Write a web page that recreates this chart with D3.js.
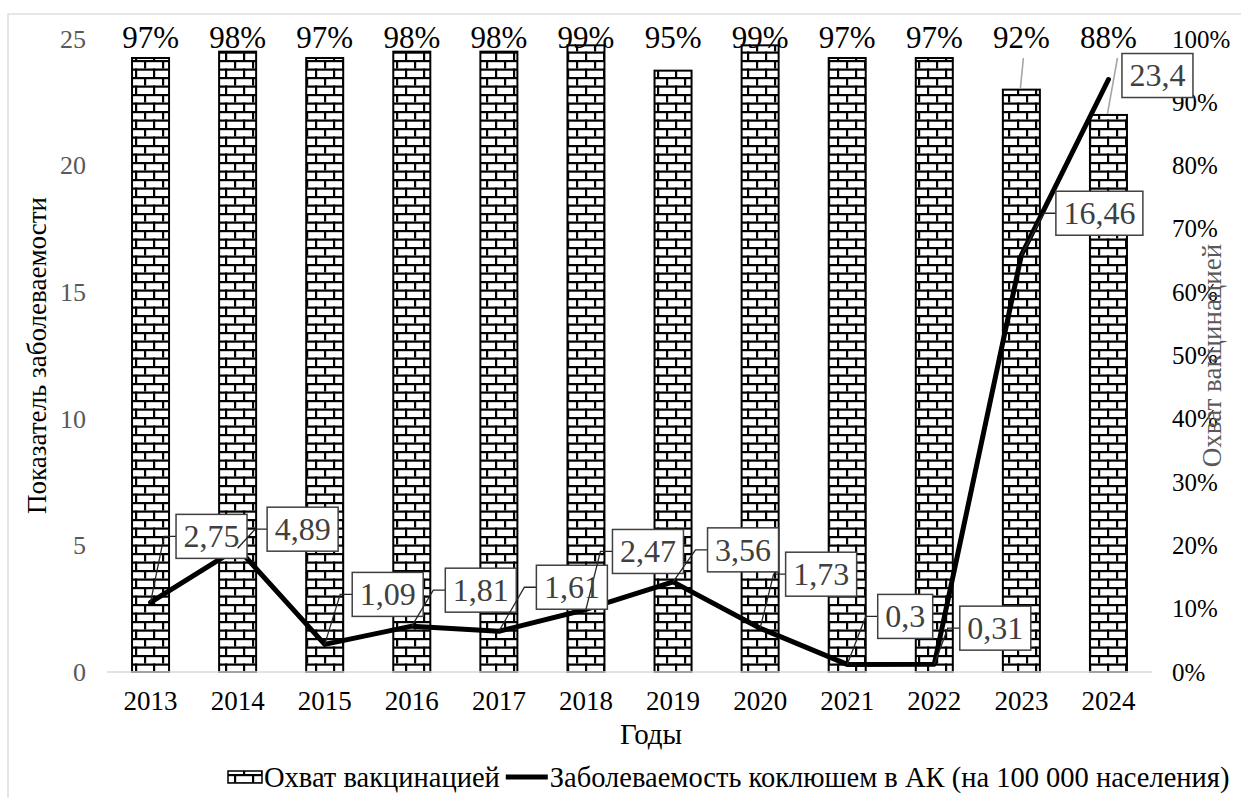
<!DOCTYPE html>
<html><head><meta charset="utf-8">
<script src="https://cdn.jsdelivr.net/npm/d3@7"></script>
<style>
html,body{margin:0;padding:0;background:#fff;}
svg{display:block;font-family:"Liberation Serif","Times New Roman",serif;}
svg text{font-family:"Liberation Serif","Times New Roman",serif;}
</style></head>
<body>
<svg id="chart" width="1241" height="798"></svg>
<script>
// ---- data ----
const years = ["2013","2014","2015","2016","2017","2018","2019","2020","2021","2022","2023","2024"];
const coverage = [0.97,0.98,0.97,0.98,0.98,0.99,0.95,0.99,0.97,0.97,0.92,0.88];
const incidence = [2.75,4.89,1.09,1.81,1.61,2.47,3.56,1.73,0.30,0.31,16.46,23.4];
const leftTicks = [0,5,10,15,20,25];
const rightTicks = [0,0.1,0.2,0.3,0.4,0.5,0.6,0.7,0.8,0.9,1.0];
const seriesNames = ["Охват вакцинацией","Заболеваемость коклюшем в АК (на 100 000 населения)"];
const axisTitles = {x:"Годы", yLeft:"Показатель заболеваемости", yRight:"Охват вакцинацией"};

// ---- layout (label placement offsets in px, as placed manually in the source chart) ----
const labelOffsets = [[61,-66],[65,-19],[63,-50],[69,-36],[73,-44],[62,-58],[70,-32],[61,-54],[58,-48],[61,-36],[78,-42],[49,-4]];

const svg = d3.select("#chart");
const W = 1241, H = 798;
const plot = {left:107, right:1152, top:39, bottom:672};

const ruLocale = d3.formatLocale({decimal:",", thousands:" ", grouping:[3], currency:["",""]});
const fmtNum = ruLocale.format("");
const fmtPct = d3.format(".0%");

const x = d3.scaleBand().domain(years).range([plot.left, plot.right]).paddingInner(0.575).paddingOuter(0.2875);
const yL = d3.scaleLinear().domain([0,25]).range([plot.bottom, plot.top]);
const yR = d3.scaleLinear().domain([0,1]).range([plot.bottom, plot.top]);
const cx = d => x(d) + x.bandwidth()/2;

// chart area border
svg.append("rect").attr("x",8).attr("y",14).attr("width",W).attr("height",H)
  .attr("fill","#fff").attr("stroke","#d9d9d9").attr("stroke-width",1.3);

// brick pattern
const defs = svg.append("defs");
const pw = 18, ph = 8.5;
const pat = defs.append("pattern").attr("id","brick").attr("patternUnits","userSpaceOnUse")
  .attr("width",pw).attr("height",ph*2).attr("x",0).attr("y",plot.bottom%(ph*2));
pat.append("rect").attr("width",pw).attr("height",ph*2).attr("fill","#fff");
pat.append("rect").attr("x",0).attr("y",0).attr("width",pw).attr("height",2.2).attr("fill","#000");
pat.append("rect").attr("x",0).attr("y",ph).attr("width",pw).attr("height",2.2).attr("fill","#000");
pat.append("rect").attr("x",0).attr("y",0).attr("width",2.2).attr("height",ph).attr("fill","#000");
pat.append("rect").attr("x",pw/2).attr("y",ph).attr("width",2.2).attr("height",ph).attr("fill","#000");

// bars
svg.append("g").selectAll("rect").data(years).join("rect")
  .attr("x", d => x(d)).attr("width", x.bandwidth())
  .attr("y", (d,i) => yR(coverage[i])).attr("height", (d,i) => plot.bottom - yR(coverage[i]))
  .attr("fill","url(#brick)").attr("stroke","#000").attr("stroke-width",2);

// baseline
svg.append("line").attr("x1",plot.left).attr("x2",plot.right).attr("y1",plot.bottom).attr("y2",plot.bottom)
  .attr("stroke","#d9d9d9").attr("stroke-width",1.5);

// bar labels (placed at the top of the plot), with leader lines where bar is lower
const barLabelY = 48;
const lowBars = years.map((d,i) => i).filter(i => yR(coverage[i]) - barLabelY > 25);
svg.append("g").selectAll("line").data(lowBars).join("line")
  .attr("x1", i => cx(years[i]) + (i===11?9:2)).attr("y1", barLabelY + 10)
  .attr("x2", i => cx(years[i]) - 1).attr("y2", i => yR(coverage[i]) - 1)
  .attr("stroke","#a6a6a6").attr("stroke-width",1.6);
svg.append("g").selectAll("text").data(years).join("text")
  .attr("x", d => cx(d)).attr("y", barLabelY)
  .attr("text-anchor","middle").attr("font-size",31).attr("fill","#000")
  .text((d,i) => fmtPct(coverage[i]));

// left axis
const gL = svg.append("g").attr("transform",`translate(${plot.left},0)`)
  .call(d3.axisLeft(yL).tickValues(leftTicks).tickSize(0).tickPadding(21).tickFormat(d3.format("d")));
gL.select(".domain").remove();
gL.selectAll("text").attr("font-size",26).attr("fill","#595959").attr("font-family","Liberation Serif");

// right axis
const gR = svg.append("g").attr("transform",`translate(${plot.right},0)`)
  .call(d3.axisRight(yR).tickValues(rightTicks).tickSize(0).tickPadding(20).tickFormat(fmtPct));
gR.select(".domain").remove();
gR.selectAll("text").attr("font-size",25).attr("fill","#000").attr("font-family","Liberation Serif");

// x axis
const gX = svg.append("g").attr("transform",`translate(0,${plot.bottom})`)
  .call(d3.axisBottom(x).tickSize(0).tickPadding(30));
gX.select(".domain").remove();
gX.selectAll("text").attr("font-size",27).attr("fill","#000").attr("font-family","Liberation Serif").attr("dy","0.3em");

// axis titles
svg.append("text").attr("x",651).attr("y",744).attr("text-anchor","middle").attr("font-size",29).attr("fill","#000").text(axisTitles.x);
svg.append("text").attr("transform",`translate(46,${(plot.top+plot.bottom)/2}) rotate(-90)`)
  .attr("text-anchor","middle").attr("font-size",27).attr("fill","#000").text(axisTitles.yLeft);
svg.append("text").attr("transform",`translate(1221,${(plot.top+plot.bottom)/2}) rotate(-90)`)
  .attr("text-anchor","middle").attr("font-size",27).attr("fill","#595959").text(axisTitles.yRight);

// line
const line = d3.line().x((d,i) => cx(years[i])).y(d => yL(d));
svg.append("path").datum(incidence).attr("d", line)
  .attr("fill","none").attr("stroke","#000").attr("stroke-width",5).attr("stroke-linejoin","round").attr("stroke-linecap","round");

// data labels with leader lines
const lblG = svg.append("g");
incidence.forEach((v,i) => {
  const px = cx(years[i]), py = yL(v);
  const bx = px + labelOffsets[i][0], by = py + labelOffsets[i][1];
  const t = lblG.append("text").attr("font-size",32).attr("fill","#404040").attr("text-anchor","middle")
    .attr("x",bx).attr("y",by).attr("dy","0.34em").text(fmtNum(v));
  const tw = t.node().getComputedTextLength();
  const bw = tw + 15, bh = 44;
  const left = bx - bw/2;
  if (left - px > 25) {
    lblG.insert("polyline","text").attr("points",`${left},${by} ${left-12},${by} ${px},${py}`)
      .attr("fill","none").attr("stroke","#262626").attr("stroke-width",1.3);
  }
  lblG.insert("rect","text").attr("x",left).attr("y",by-bh/2).attr("width",bw).attr("height",bh)
    .attr("fill","#fff").attr("stroke","#404040").attr("stroke-width",1.5);
});

// legend
const lg = svg.append("g");
const legFont = 28.5;
let lx = 228;
lg.append("rect").attr("x",lx).attr("y",771).attr("width",34).attr("height",12)
  .attr("fill","url(#brick)").attr("stroke","#000").attr("stroke-width",1.5);
lx += 36;
const t1 = lg.append("text").attr("x",lx).attr("y",787).attr("font-size",legFont).attr("fill","#000").text(seriesNames[0]);
lx += t1.node().getComputedTextLength() + 6;
lg.append("line").attr("x1",lx).attr("x2",lx+42).attr("y1",777).attr("y2",777).attr("stroke","#000").attr("stroke-width",5);
lx += 44;
lg.append("text").attr("x",lx).attr("y",787).attr("font-size",legFont).attr("fill","#000").text(seriesNames[1]);
</script>
</body></html>
